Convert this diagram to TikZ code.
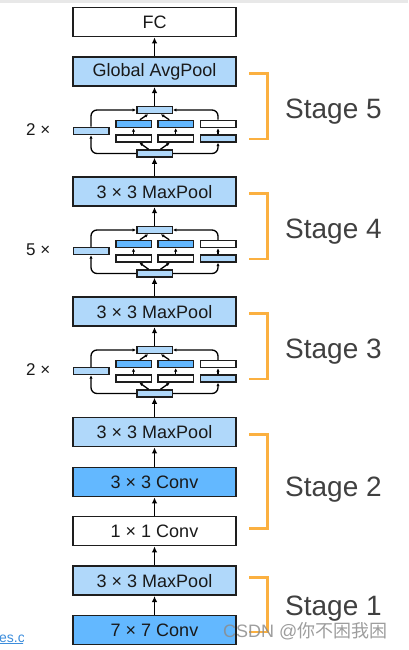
\documentclass[tikz,border=0pt]{standalone}
\usepackage{fontspec}
\setmainfont{Liberation Sans}
\newfontfamily\cjkfont{Noto Sans CJK SC}
\usetikzlibrary{arrows.meta}
\definecolor{lblue}{HTML}{B0D8FA}
\definecolor{dblue}{HTML}{63B8FF}
\definecolor{stageorange}{HTML}{FBB040}
\definecolor{stagegray}{HTML}{404040}
\definecolor{edgecol}{HTML}{1E1E1E}
\definecolor{linkblue}{HTML}{3C8DDC}
\tikzset{
 bigbox/.style={draw=edgecol, line width=1.7pt, minimum width=162.7pt, minimum height=29pt, inner sep=0pt, font=\fontsize{18}{20}\selectfont, text=black!90},
 smallbox/.style={draw=edgecol, line width=1.5pt, minimum width=35.5pt, minimum height=7pt, inner sep=0pt},
 mainarrow/.style={line width=1.5pt, draw=black, -{Latex[length=6pt,width=5.5pt]}},
 smallarrow/.style={line width=1.3pt, draw=black, -{Latex[length=3.4pt,width=3.4pt]}, rounded corners=6pt},
 bracket/.style={draw=stageorange, line width=2.4pt},
 stagelabel/.style={anchor=base west, inner sep=0pt, font=\fontsize{28}{30}\selectfont, text=stagegray},
 replabel/.style={anchor=base west, inner sep=0pt, font=\fontsize{17}{19}\selectfont, text=black!90},
}
\newcommand\incblock[2]{%
\begin{scope}[shift={(0,#2)}]
\node[smallbox,fill=lblue] (#1t) at (154.5,110) {};
\node[smallbox,fill=lblue] (#1b) at (154.5,153.5) {};
\node[smallbox,fill=lblue] (#1l) at (91,131) {};
\node[smallbox,fill=dblue] (#1au) at (133.5,124) {};
\node[smallbox,fill=white] (#1al) at (133.5,138.5) {};
\node[smallbox,fill=dblue] (#1bu) at (175.7,124) {};
\node[smallbox,fill=white] (#1bl) at (175.7,138.5) {};
\node[smallbox,fill=white] (#1cu) at (218,124) {};
\node[smallbox,fill=lblue] (#1cl) at (218,138.5) {};
\end{scope}
\draw[smallarrow] (#1b.west) -| (#1l.south);
\draw[smallarrow] (#1l.north) |- (#1t.west);
\draw[smallarrow] (#1b.east) -| (#1cl.south);
\draw[smallarrow] (#1cu.north) |- (#1t.east);
\draw[smallarrow] (#1al) -- (#1au);
\draw[smallarrow] (#1bl) -- (#1bu);
\draw[smallarrow] (#1cl) -- (#1cu);
\draw[smallarrow] (#1b) -- (#1al);
\draw[smallarrow] (#1b) -- (#1bl);
\draw[smallarrow] (#1au) -- (#1t);
\draw[smallarrow] (#1bu) -- (#1t);
}
\begin{document}
\begin{tikzpicture}[x=1pt,y=-1pt]
\useasboundingbox (0,0) rectangle (408,650);
\fill[black!9] (0,0) rectangle (408,3.5);
% main column
\node[bigbox,fill=white] (fc) at (154.5,22) {FC};
\node[bigbox,fill=lblue] (avg) at (154.5,71.7) {Global AvgPool};
\node[bigbox,fill=lblue] (mp4) at (154.5,191.8) {3 × 3 MaxPool};
\node[bigbox,fill=lblue] (mp3) at (154.5,311.8) {3 × 3 MaxPool};
\node[bigbox,fill=lblue] (mp2) at (154.5,432) {3 × 3 MaxPool};
\node[bigbox,fill=dblue] (conv3) at (154.5,482) {3 × 3 Conv};
\node[bigbox,fill=white] (conv1) at (154.5,531) {1 × 1 Conv};
\node[bigbox,fill=lblue] (mp1) at (154.5,580.7) {3 × 3 MaxPool};
\node[bigbox,fill=dblue] (conv7) at (154.5,630) {7 × 7 Conv};
% inception blocks
\incblock{ia}{0}
\incblock{ib}{120}
\incblock{ic}{240}
% main arrows
\draw[mainarrow] (conv7) -- (mp1);
\draw[mainarrow] (mp1) -- (conv1);
\draw[mainarrow] (conv1) -- (conv3);
\draw[mainarrow] (conv3) -- (mp2);
\draw[mainarrow] (mp2) -- (icb);
\draw[mainarrow] (ict) -- (mp3);
\draw[mainarrow] (mp3) -- (ibb);
\draw[mainarrow] (ibt) -- (mp4);
\draw[mainarrow] (mp4) -- (iab);
\draw[mainarrow] (iat) -- (avg);
\draw[mainarrow] (avg) -- (fc);
% repeat labels
\node[replabel] (r5) at (26,135.7) {2 ×};
\node[replabel] (r4) at (26,255.7) {5 ×};
\node[replabel] (r3) at (26,375.7) {2 ×};
% brackets
\draw[bracket] (249,73.5) -| (267.3,139) -- (249,139);
\draw[bracket] (249,193.5) -| (267.3,259) -- (249,259);
\draw[bracket] (249,313.5) -| (267.3,379) -- (249,379);
\draw[bracket] (249,434.3) -| (267.3,528.3) -- (249,528.3);
\draw[bracket] (249,577.3) -| (267.3,631.7) -- (249,631.7);
% stage labels
\node[stagelabel] (s5) at (285,119) {Stage 5};
\node[stagelabel] (s4) at (285,238) {Stage 4};
\node[stagelabel] (s3) at (285,358.5) {Stage 3};
\node[stagelabel] (s2) at (285,496.7) {Stage 2};
\node[stagelabel] (s1) at (285,615) {Stage 1};
% link fragment and watermark
\begin{scope}
\clip (0,600) rectangle (23,650);
\node[anchor=base west, inner sep=0pt, font=\fontsize{14}{16}\selectfont, text=linkblue] (link) at (-1,642) {\underline{es.c}};
\end{scope}
\node[anchor=base west, inner sep=0pt, font=\fontsize{18}{20}\selectfont, text=black!45, opacity=0.85] (wm) at (223,637) {CSDN @{\cjkfont 你不困我困}};
\end{tikzpicture}
\end{document}
